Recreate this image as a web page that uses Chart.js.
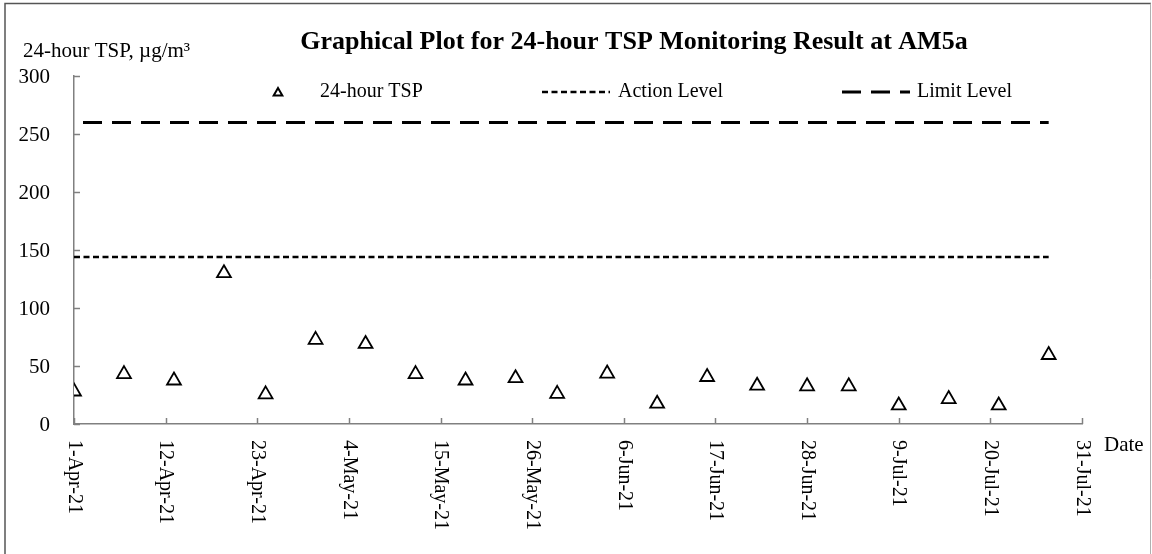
<!DOCTYPE html>
<html>
<head>
<meta charset="utf-8">
<script src="https://cdn.jsdelivr.net/npm/chart.js@4.4.1/dist/chart.umd.min.js"></script>
<style>
  html, body { margin: 0; padding: 0; background: #ffffff; }
  canvas { display: block; }
</style>
</head>
<body>
<canvas id="c" width="1152" height="554"></canvas>
<script>
// ---- data ----
const sampleDates = ['2021-04-01','2021-04-07','2021-04-13','2021-04-19','2021-04-24','2021-04-30',
  '2021-05-06','2021-05-12','2021-05-18','2021-05-24','2021-05-29','2021-06-04','2021-06-10',
  '2021-06-16','2021-06-22','2021-06-28','2021-07-03','2021-07-09','2021-07-15','2021-07-21','2021-07-27'];
const tspValues = [28, 43, 37.5, 130, 25.5, 72.5, 69, 43, 37.5, 39.5, 26, 43.5, 17.5, 40.5, 33, 32.5, 32.5, 16, 21.5, 16, 59.5];
const actionLevel = 144;
const limitLevel = 260;
const tickLabels = ['1-Apr-21','12-Apr-21','23-Apr-21','4-May-21','15-May-21','26-May-21',
  '6-Jun-21','17-Jun-21','28-Jun-21','9-Jul-21','20-Jul-21','31-Jul-21'];
const startDate = '2021-04-01';
const endDate = '2021-07-31';
const tickStepDays = 11;
const yTicks = [0, 50, 100, 150, 200, 250, 300];

const titleText = 'Graphical Plot for 24-hour TSP Monitoring Result at AM5a';
const yTitleText = '24-hour TSP, \u00B5g/m\u00B3';
const xTitleText = 'Date';

// ---- helpers ----
function dayOf(s) {
  const [y, m, d] = s.split('-').map(Number);
  const [y0, m0, d0] = startDate.split('-').map(Number);
  return Math.round((Date.UTC(y, m - 1, d) - Date.UTC(y0, m0 - 1, d0)) / 86400000);
}
const tspPoints = sampleDates.map((d, i) => ({ x: dayOf(d), y: tspValues[i] }));
const firstDay = dayOf(sampleDates[0]);
const lastDay = dayOf(sampleDates[sampleDates.length - 1]);
const actionPoints = [{ x: firstDay, y: actionLevel }, { x: lastDay, y: actionLevel }];
const limitPoints = [{ x: firstDay, y: limitLevel }, { x: lastDay, y: limitLevel }];

const SERIF = '"Liberation Serif", "Times New Roman", serif';
const AXIS_COLOR = '#808080';

const decorPlugin = {
  id: 'decor',
  afterDraw(chart) {
    const ctx = chart.ctx;
    const xs = chart.scales.x, ys = chart.scales.y;
    const area = chart.chartArea;
    ctx.save();

    // outer frame
    ctx.lineWidth = 1.5;
    ctx.strokeStyle = '#555555';
    ctx.beginPath();
    ctx.moveTo(5, 560); ctx.lineTo(5, 3.5); ctx.lineTo(1151, 3.5);
    ctx.stroke();
    ctx.lineWidth = 1;
    ctx.strokeStyle = '#b0b0b0';
    ctx.beginPath();
    ctx.moveTo(1150.5, 3.5); ctx.lineTo(1150.5, 560);
    ctx.stroke();

    // inward tick marks
    ctx.strokeStyle = AXIS_COLOR;
    ctx.lineWidth = 1.5;
    xs.ticks.forEach(t => {
      const px = Math.round(xs.getPixelForValue(t.value)) + 0.5;
      ctx.beginPath();
      ctx.moveTo(px, area.bottom);
      ctx.lineTo(px, area.bottom - 6);
      ctx.stroke();
    });
    ys.ticks.forEach(t => {
      const py = Math.round(ys.getPixelForValue(t.value)) + 0.5;
      ctx.beginPath();
      ctx.moveTo(area.left, py);
      ctx.lineTo(area.left + 6, py);
      ctx.stroke();
    });

    // x tick labels, rotated clockwise
    ctx.fillStyle = '#000';
    ctx.font = '20px ' + SERIF;
    ctx.textAlign = 'left';
    ctx.textBaseline = 'middle';
    xs.ticks.forEach(t => {
      const px = xs.getPixelForValue(t.value);
      const lbl = tickLabels[Math.round(t.value / tickStepDays)];
      if (!lbl) return;
      ctx.save();
      ctx.translate(px, area.bottom + 16);
      ctx.rotate(Math.PI / 2);
      ctx.fillText(lbl, 0, 0);
      ctx.restore();
    });

    // y tick labels
    ctx.font = '21px ' + SERIF;
    ctx.textAlign = 'right';
    ctx.textBaseline = 'middle';
    ys.ticks.forEach(t => {
      ctx.fillText(String(t.value), area.left - 24, ys.getPixelForValue(t.value) + 1);
    });

    // axis titles
    ctx.textAlign = 'left';
    ctx.textBaseline = 'alphabetic';
    ctx.fillText(yTitleText, 23, 57);
    ctx.textBaseline = 'middle';
    ctx.fillText(xTitleText, area.right + 22, area.bottom + 21);

    // title
    ctx.font = 'bold 26px ' + SERIF;
    ctx.textAlign = 'center';
    ctx.textBaseline = 'alphabetic';
    ctx.fillText(titleText, 634, 49);

    // legend
    const ly = 92;
    const ds = chart.data.datasets;
    ctx.font = '20px ' + SERIF;
    ctx.textAlign = 'left';
    ctx.textBaseline = 'middle';
    // marker item
    ctx.lineWidth = 2;
    ctx.strokeStyle = '#000';
    ctx.setLineDash([]);
    const r = 5;
    ctx.beginPath();
    ctx.moveTo(278, ly + 1 - r);
    ctx.lineTo(278 + r * Math.sin(2 * Math.PI / 3), ly + 1 - r * Math.cos(2 * Math.PI / 3));
    ctx.lineTo(278 + r * Math.sin(4 * Math.PI / 3), ly + 1 - r * Math.cos(4 * Math.PI / 3));
    ctx.closePath();
    ctx.stroke();
    ctx.fillText(ds[0].label, 320, ly);
    // line items
    const lineItems = [
      { ds: ds[1], x0: 542, x1: 610, tx: 618 },
      { ds: ds[2], x0: 842, x1: 910, tx: 917 }
    ];
    lineItems.forEach(it => {
      ctx.lineWidth = it.ds.borderWidth;
      ctx.setLineDash(it.ds.borderDash);
      ctx.lineDashOffset = 0;
      ctx.beginPath();
      ctx.moveTo(it.x0, ly);
      ctx.lineTo(it.x1, ly);
      ctx.stroke();
      ctx.setLineDash([]);
      ctx.fillText(it.ds.label, it.tx, ly);
    });

    ctx.restore();
  }
};

new Chart(document.getElementById('c'), {
  type: 'scatter',
  data: {
    datasets: [
      {
        label: '24-hour TSP',
        data: tspPoints,
        showLine: false,
        pointStyle: 'triangle',
        pointRadius: 8,
        pointHoverRadius: 8,
        pointBorderWidth: 1.8,
        borderColor: '#000',
        backgroundColor: '#fff',
        order: 0
      },
      {
        label: 'Action Level',
        data: actionPoints,
        showLine: true,
        pointRadius: 0,
        borderColor: '#000',
        borderWidth: 2.5,
        borderDash: [6, 3.5],
        fill: false,
        order: 1
      },
      {
        label: 'Limit Level',
        data: limitPoints,
        showLine: true,
        pointRadius: 0,
        borderColor: '#000',
        borderWidth: 3,
        borderDash: [19, 10],
        borderDashOffset: 20,
        fill: false,
        order: 2
      }
    ]
  },
  options: {
    responsive: false,
    animation: false,
    devicePixelRatio: 1,
    layout: { padding: { left: 0, top: 76, right: 70, bottom: 0 } },
    plugins: {
      legend: { display: false },
      title: { display: false },
      tooltip: { enabled: false }
    },
    scales: {
      x: {
        type: 'linear',
        min: dayOf(startDate),
        max: dayOf(endDate),
        ticks: { display: false, stepSize: tickStepDays },
        grid: { display: false },
        border: { display: true, color: AXIS_COLOR, width: 1.5 },
        afterFit(s) { s.height = 130; }
      },
      y: {
        min: yTicks[0],
        max: yTicks[yTicks.length - 1],
        ticks: { display: false, stepSize: yTicks[1] - yTicks[0] },
        grid: { display: false },
        border: { display: true, color: AXIS_COLOR, width: 1.5 },
        afterFit(s) { s.width = 74; }
      }
    }
  },
  plugins: [decorPlugin]
});
</script>
</body>
</html>
